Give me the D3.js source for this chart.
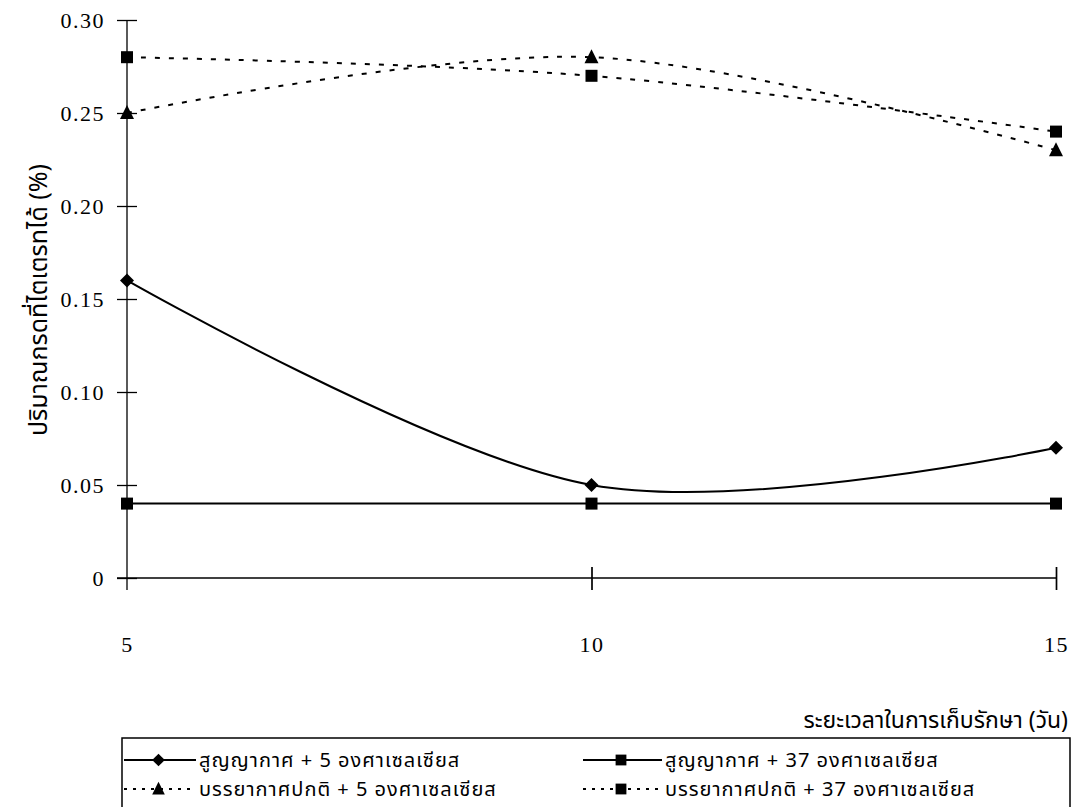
<!DOCTYPE html>
<html>
<head>
<meta charset="utf-8">
<script src="https://cdn.jsdelivr.net/npm/d3@7/dist/d3.min.js"></script>
<style>
  html, body { margin: 0; padding: 0; background: #fff; }
  svg { display: block; }
  text.num { font-family: "Liberation Serif", "Times New Roman", serif; font-size: 22px; letter-spacing: 1.5px; fill: #000; }
  text.thai { font-family: "Noto Sans Thai", "Noto Sans", "DejaVu Sans", sans-serif; fill: #000; }
</style>
</head>
<body>
<svg id="chart" width="1078" height="807"></svg>
<script>
// Storage days
const days = [5, 10, 15];
// Titratable acidity (%) per storage condition
const vacuum5 = [0.16, 0.05, 0.07];
const vacuum37 = [0.04, 0.04, 0.04];
const normal5 = [0.25, 0.28, 0.23];
const normal37 = [0.28, 0.27, 0.24];
const seriesNames = [
  "สูญญากาศ + 5 องศาเซลเซียส",
  "สูญญากาศ + 37 องศาเซลเซียส",
  "บรรยากาศปกติ + 5 องศาเซลเซียส",
  "บรรยากาศปกติ + 37 องศาเซลเซียส"
];
const yTicks = [0, 0.05, 0.10, 0.15, 0.20, 0.25, 0.30];
const yTickLabels = ["0", "0.05", "0.10", "0.15", "0.20", "0.25", "0.30"];
const xTickLabels = ["5", "10", "15"];
const yTitle = "ปริมาณกรดที่ไตเตรทได้ (%)";
const xTitle = "ระยะเวลาในการเก็บรักษา (วัน)";

const series = [
  { name: seriesNames[0], values: vacuum5, dashed: false, marker: "diamond" },
  { name: seriesNames[1], values: vacuum37, dashed: false, marker: "square" },
  { name: seriesNames[2], values: normal5, dashed: true, marker: "triangle" },
  { name: seriesNames[3], values: normal37, dashed: true, marker: "square" }
];

const svg = d3.select("#chart");
const x = d3.scaleLinear().domain([5, 15]).range([127, 1056]);
const y = d3.scaleLinear().domain([0, 0.30]).range([578, 20]);

// Y axis: line plus ticks crossing both sides
const gy = svg.append("g").attr("transform", `translate(${x(5)},0)`);
gy.call(d3.axisLeft(y).tickValues(yTicks).tickFormat((d, i) => yTickLabels[i]).tickSize(0).tickPadding(22));
gy.select(".domain").remove();
gy.append("line").attr("x1", 0).attr("x2", 0).attr("y1", y(0.30)).attr("y2", 590)
  .attr("stroke", "#000").attr("stroke-width", 1.3);
gy.selectAll(".tick line").remove();
gy.selectAll(".tick").append("line")
  .attr("x1", -10).attr("x2", 10).attr("stroke", "#000").attr("stroke-width", 1.3);
gy.selectAll(".tick text").attr("class", "num").attr("dy", "0.35em");

// X axis along zero
const gx = svg.append("g").attr("transform", `translate(0,${y(0)})`);
gx.call(d3.axisBottom(x).tickValues(days).tickFormat((d, i) => xTickLabels[i]).tickSize(0).tickPadding(58));
gx.select(".domain").remove();
gx.append("line").attr("x1", x(5) - 10).attr("x2", x(15)).attr("y1", 0).attr("y2", 0)
  .attr("stroke", "#000").attr("stroke-width", 1.5);
gx.selectAll(".tick").filter(d => d !== 5).append("line")
  .attr("y1", -11).attr("y2", 12).attr("stroke", "#000").attr("stroke-width", 1.7);
gx.selectAll(".tick text").attr("class", "num");

// Axis titles
svg.append("text").attr("class", "thai")
  .attr("transform", `translate(47,300) rotate(-90)`)
  .attr("text-anchor", "middle").attr("font-size", 25).text(yTitle);
svg.append("text").attr("class", "thai")
  .attr("x", 1068).attr("y", 728).attr("text-anchor", "end")
  .attr("font-size", 23).text(xTitle);

// Smoothed lines
const line = d3.line()
  .x((d, i) => x(days[i]))
  .y(d => y(d))
  .curve(d3.curveCardinal.tension(0));

function drawMarker(g, type, cx, cy, scale) {
  const s = scale || 1;
  if (type === "diamond") {
    g.append("path").attr("d", `M${cx},${cy - 7 * s}L${cx + 7 * s},${cy}L${cx},${cy + 7 * s}L${cx - 7 * s},${cy}Z`).attr("fill", "#000");
  } else if (type === "square") {
    g.append("rect").attr("x", cx - 6 * s).attr("y", cy - 6 * s).attr("width", 12 * s).attr("height", 12 * s).attr("fill", "#000");
  } else if (type === "triangle") {
    g.append("path").attr("d", `M${cx},${cy - 8 * s}L${cx + 7 * s},${cy + 6 * s}L${cx - 7 * s},${cy + 6 * s}Z`).attr("fill", "#000");
  }
}

const plot = svg.append("g");
series.forEach(s => {
  plot.append("path").attr("d", line(s.values))
    .attr("fill", "none").attr("stroke", "#000")
    .attr("stroke-width", 2)
    .attr("stroke-dasharray", s.dashed ? "5,9" : null);
});
series.forEach(s => {
  s.values.forEach((v, i) => drawMarker(plot, s.marker, x(days[i]), y(v)));
});

// Legend
const legend = svg.append("g");
legend.append("rect").attr("x", 122).attr("y", 738).attr("width", 948).attr("height", 90)
  .attr("fill", "none").attr("stroke", "#000").attr("stroke-width", 1.5);
const legendPos = [
  { lx: 124, ly: 760, tx: 199 }, { lx: 583, ly: 760, tx: 665 },
  { lx: 124, ly: 789, tx: 199 }, { lx: 583, ly: 789, tx: 665 }
];
series.forEach((s, i) => {
  const p = legendPos[i];
  legend.append("line").attr("x1", p.lx).attr("x2", p.tx - 3).attr("y1", p.ly).attr("y2", p.ly)
    .attr("stroke", "#000").attr("stroke-width", 2)
    .attr("stroke-dasharray", s.dashed ? "3,6" : null);
  drawMarker(legend, s.marker, (p.lx + p.tx) / 2 - 3, p.ly, 0.9);
  legend.append("text").attr("class", "thai").attr("x", p.tx).attr("y", p.ly + 7)
    .attr("font-size", 20).attr("letter-spacing", 1).text(s.name);
});
</script>
</body>
</html>
